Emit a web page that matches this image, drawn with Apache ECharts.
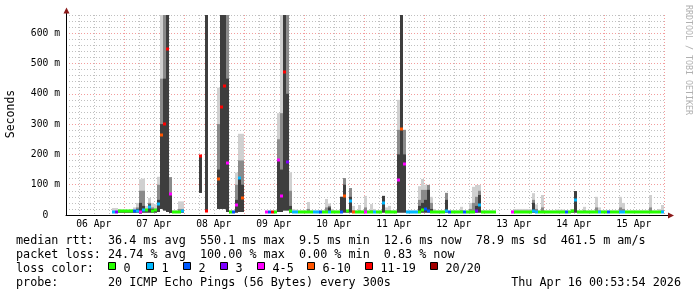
<!DOCTYPE html>
<html>
<head>
<meta charset="utf-8">
<script src="https://cdn.jsdelivr.net/npm/echarts@6/dist/echarts.min.js"></script>
<style>html,body{margin:0;padding:0;background:#fff}#c{width:697px;height:297px}</style>
</head>
<body>
<div id="c"></div>
<script>
// ---------------- DATA ----------------
// Time axis in hours since 06 Apr 00:00 (graph ends Thu Apr 16 00:53:54)
const dayLabels = ['06 Apr','07 Apr','08 Apr','09 Apr','10 Apr','11 Apr','12 Apr','13 Apr','14 Apr','15 Apr'];
const labelHours = [12,36,60,84,108,132,156,180,204,228];
const yTickValues = [0,100,200,300,400,500,600];
// consolidated rows: first row starts at hour 19.2, one row every 1.2 h
const binStartHour = 19.2;
const binHours = 1.2;
// median rtt (ms)
const median = [
 11,10,12,12,12,12,12,12,12,11,
 15,15,27,14,15,36,264,300,548,70,
 11,11,11,12,null,null,null,null,null,195,
 null,13,null,null,null,119,357,426,171,11,
 11,33,122,56,null,null,null,null,null,null,
 null,9,9,10,10,182,63,473,175,13,
 10,10,11,11,11,11,11,11,11,11,
 11,11,11,11,11,11,11,63,12,47,
 10,11,11,11,10,11,11,10,11,11,
 40,11,11,11,11,116,284,168,10,10,
 10,10,11,15,20,12,11,11,11,11,
 11,12,11,11,11,11,11,11,11,11,
 11,12,33,11,11,11,11,11,null,null,
 null,null,null,10,11,11,11,11,11,11,
 14,11,11,11,11,11,11,11,11,11,
 11,11,11,12,50,11,11,11,11,11,
 11,11,11,11,11,11,11,11,11,11,
 11,11,11,11,11,11,11,11,11,11,
 11,11,11,11
];
// lost pings out of 20
const lossCount = [
 1,3,0,0,0,0,0,2,1,4,
 1,0,1,0,0,1,7,12,12,4,
 0,0,0,1,null,null,null,null,null,12,
 null,12,null,null,null,7,12,12,4,0,
 2,4,1,7,null,null,null,null,null,null,
 null,4,2,12,0,4,4,12,3,0,
 1,1,0,0,0,0,0,1,1,2,
 0,0,1,0,0,0,2,7,0,1,
 7,0,0,0,4,0,0,1,0,0,
 1,0,0,0,0,4,7,4,1,1,
 1,1,0,0,2,2,0,0,0,0,
 0,1,2,0,0,0,0,2,0,0,
 0,3,1,0,0,0,0,0,null,null,
 null,null,null,4,0,0,0,0,0,0,
 1,1,0,0,0,0,0,0,0,0,
 0,2,0,0,1,0,0,0,0,0,
 0,0,1,0,0,2,0,0,0,1,
 1,0,0,0,0,0,0,0,0,0,
 0,0,0,1
];
// smoke: lowest ping (ms)
const smokeLow = [
 8,8,8,8,8,8,8,8,8,5,
 8,8,8,8,8,10,20,15,10,7,
 8,8,8,8,null,null,null,null,null,73,
 null,10,null,null,null,20,20,20,10,8,
 8,8,10,10,null,null,null,null,null,null,
 null,7,7,7,8,10,10,15,15,8,
 8,8,8,8,8,8,8,8,8,8,
 8,8,8,8,8,8,8,8,8,8,
 8,8,8,8,8,8,8,8,8,8,
 8,8,8,8,8,8,8,8,8,8,
 8,8,8,8,8,8,8,8,8,8,
 8,8,8,8,8,8,8,8,8,8,
 8,8,8,8,8,8,8,8,null,null,
 null,null,null,8,8,8,8,8,8,8,
 8,8,8,8,8,8,8,8,8,8,
 8,8,8,8,8,8,8,8,8,8,
 8,8,8,8,8,8,8,8,8,8,
 8,8,8,8,8,8,8,8,8,8,
 8,8,8,8
];
// smoke: dense core top (ms)
const smokeCore = [
 12,12,13,12,12,12,12,15,20,40,
 30,18,35,20,20,50,300,450,660,70,
 12,12,12,14,null,null,null,null,null,195,
 null,660,null,null,null,150,660,660,450,12,
 12,50,120,100,null,null,null,null,null,null,
 null,10,10,10,12,182,150,660,400,30,
 12,12,12,12,12,12,12,12,12,12,
 12,12,25,12,12,12,60,100,12,60,
 12,12,12,12,12,12,12,12,12,12,
 63,12,12,12,12,200,660,200,12,12,
 12,12,30,40,50,83,20,12,12,12,
 12,50,12,12,12,12,12,12,12,12,
 12,30,66,12,12,12,12,12,null,null,
 null,null,null,12,12,12,12,12,12,12,
 40,12,12,12,12,12,12,12,12,12,
 12,12,12,12,79,12,12,12,12,12,
 12,12,12,12,12,12,12,12,12,12,
 12,12,12,12,12,12,12,12,12,12,
 12,12,12,12
];
// smoke: middle band top (ms)
const smokeMid = [
 12,12,13,12,12,12,12,15,25,80,
 80,18,40,25,20,100,450,660,660,125,
 12,12,20,20,null,null,null,null,null,195,
 null,660,null,null,null,300,660,660,660,12,
 12,100,180,180,null,null,null,null,null,null,
 null,10,10,10,12,250,336,660,660,80,
 12,12,12,12,12,20,12,12,12,12,
 12,25,30,12,12,12,60,122,12,89,
 15,12,15,12,25,12,15,12,12,12,
 63,15,15,12,12,281,660,281,12,12,
 12,12,50,83,83,99,40,12,12,12,
 12,73,12,12,12,12,15,12,12,20,
 40,60,80,12,12,12,12,12,null,null,
 null,null,null,12,14,14,14,14,14,14,
 50,20,12,25,12,12,12,12,12,12,
 12,12,12,12,79,12,12,15,12,12,
 12,25,15,12,12,12,12,12,12,25,
 20,12,12,12,12,12,12,12,12,25,
 12,12,12,15
];
// smoke: highest ping (ms)
const smokeHigh = [
 23,23,20,18,18,17,18,25,40,118,
 120,30,56,40,35,126,660,660,660,125,
 15,15,45,45,null,null,null,null,null,195,
 null,660,null,null,null,420,660,660,660,15,
 15,140,268,268,null,null,null,null,null,null,
 null,12,12,12,15,336,660,660,660,141,
 20,18,15,15,15,43,15,15,15,15,
 15,53,38,20,15,15,60,122,15,89,
 30,15,33,15,63,15,36,20,15,15,
 63,25,30,15,15,380,660,281,15,15,
 15,15,95,119,100,100,60,20,15,15,
 15,73,15,15,15,15,27,15,15,40,
 93,99,99,15,15,15,15,15,null,null,
 null,null,null,15,20,20,20,20,20,20,
 72,35,15,66,15,15,15,15,18,18,
 18,15,15,20,79,15,15,27,15,15,
 15,60,25,15,15,15,15,15,15,60,
 40,15,15,15,15,15,15,15,15,66,
 15,15,20,33
];
const lossLabels = ['0','1','2','3','4-5','6-10','11-19','20/20'];
const lossColors = ['#26ff00','#00b8ff','#0059ff','#7e00ff','#ff00ff','#ff5500','#ff0000','#a10000'];
const statLines = [
 'median rtt:  36.4 ms avg  550.1 ms max  9.5 ms min  12.6 ms now  78.9 ms sd  461.5 m am/s',
 'packet loss: 24.74 % avg  100.00 % max  0.00 % min  0.83 % now',
 'loss color:',
 'probe:       20 ICMP Echo Pings (56 Bytes) every 300s'
];
const stampText = 'Thu Apr 16 00:53:54 2026';

// ---------------- CHART ----------------
const X_MIN = 0.898, X_MAX = 240.898, Y_MAX = 660;
const MONO = '"DejaVu Sans Mono", monospace';
const MINOR = 'rgba(140,140,140,0.55)';
const MAJOR = 'rgba(235,90,90,0.6)';

function lossClass(n){ if(n<=3) return n; if(n<=5) return 4; if(n<=10) return 5; if(n<=19) return 6; return 7; }

const rows = [];
for (let i = 0; i < median.length; i++) {
  if (median[i] == null) continue;
  rows.push([binStartHour + i*binHours, smokeLow[i], smokeCore[i], smokeMid[i], smokeHigh[i], median[i], lossCount[i]]);
}
const gridHours = [];
for (let h = 6; h <= 240; h += 6) gridHours.push(h);

function renderItem(params, api){
  const t = api.value(0);
  const cl = v => Math.min(v, Y_MAX);
  const a = api.coord([t, cl(api.value(1))]);
  const b = api.coord([t + binHours, cl(api.value(4))]);
  const x0 = Math.round(a[0]), x1 = Math.round(b[0]), w = x1 - x0;
  const yLo = a[1], yHi = b[1];
  const yCore = api.coord([t, cl(api.value(2))])[1];
  const yMid = api.coord([t, cl(api.value(3))])[1];
  const yMed = api.coord([t, cl(api.value(5))])[1];
  return {type:'group', children:[
    {type:'rect', shape:{x:x0, y:yHi, width:w, height:yLo-yHi}, style:{fill:'#d0d0d0'}},
    {type:'rect', shape:{x:x0, y:yMid, width:w, height:yLo-yMid}, style:{fill:'#8a8a8a'}},
    {type:'rect', shape:{x:x0, y:yCore, width:w, height:yLo-yCore}, style:{fill:'#3e3e3e'}},
    {type:'rect', shape:{x:x0, y:Math.round(yMed)-1.5, width:w, height:3}, style:{fill:lossColors[lossClass(api.value(6))]}}
  ]};
}

function txt(text, x, y, opts){
  return Object.assign({type:'text', x:x, y:y, silent:true, style:Object.assign({
    text:text, x:0, y:0, font:'11.75px ' + MONO, fill:'#000',
    align:'left', textAlign:'left', verticalAlign:'middle', textVerticalAlign:'middle'
  }, (opts && opts.style) || {})}, (opts && opts.el) || {});
}

const graphics = [];
const rowY = [241, 255, 269.3, 283.3];
statLines.forEach((s, i) => graphics.push(txt(s, 16, rowY[i])));
graphics.push(txt(stampText, 681, rowY[3], {style:{align:'right', textAlign:'right'}}));
const sqX = [108, 146, 183, 220, 257, 307, 365, 430];
lossLabels.forEach((lab, i) => {
  graphics.push({type:'rect', silent:true, shape:{x:sqX[i]+0.5, y:262.5, width:7, height:7},
    style:{fill:lossColors[i], stroke:'#000', lineWidth:1}});
  graphics.push(txt(lab, sqX[i]+15.5, rowY[2]));
});
graphics.push(txt('Seconds', 11, 114, {style:{font:'11.5px ' + MONO, align:'center', textAlign:'center'}, el:{rotation:Math.PI/2}}));
graphics.push(txt('RRDTOOL / TOBI OETIKER', 688, 60, {style:{font:'8.3px ' + MONO, fill:'#b0b0b0', align:'center', textAlign:'center'}, el:{rotation:-Math.PI/2}}));
// axis extensions and arrows
graphics.push({type:'line', silent:true, shape:{x1:66.5, y1:15, x2:66.5, y2:12}, style:{stroke:'#000', lineWidth:1}});
graphics.push({type:'polygon', silent:true, shape:{points:[[63.5,13.5],[66.5,7.5],[69.5,13.5]]}, style:{fill:'#8b1a1a'}});
graphics.push({type:'line', silent:true, shape:{x1:666, y1:215.5, x2:669, y2:215.5}, style:{stroke:'#000', lineWidth:1}});
graphics.push({type:'polygon', silent:true, shape:{points:[[668,212.5],[674,215.5],[668,218.5]]}, style:{fill:'#8b1a1a'}});

const chart = echarts.init(document.getElementById('c'), null, {renderer:'canvas'});
chart.setOption({
  animation: false,
  backgroundColor: '#ffffff',
  grid: {left:66, right:31, top:15, bottom:82},
  xAxis: {
    type:'value', min:X_MIN, max:X_MAX,
    axisLine:{show:true, onZero:false, lineStyle:{color:'#000', width:1}},
    axisTick:{show:false, customValues:gridHours},
    axisLabel:{customValues:labelHours, formatter:v => dayLabels[labelHours.indexOf(v)],
      fontFamily:MONO, fontSize:9.7, color:'#000', margin:4},
    splitLine:{show:true, lineStyle:{color:[MINOR, MINOR, MINOR, MAJOR], type:[1,2], width:1}}
  },
  yAxis: {
    type:'value', min:0, max:Y_MAX, interval:20,
    axisLine:{show:true, lineStyle:{color:'#000', width:1}},
    axisTick:{show:false},
    axisLabel:{formatter:v => (yTickValues.indexOf(v) < 0 ? '' : (v === 0 ? '0  ' : v + ' m')),
      fontFamily:MONO, fontSize:9.7, color:'#000', margin:6, showMaxLabel:false},
    splitLine:{show:true, lineStyle:{color:[MAJOR, MINOR, MINOR, MINOR, MINOR], type:[1,2], width:1}}
  },
  series: [{
    type:'custom', renderItem:renderItem, data:rows, clip:true, silent:true,
    encode:{x:0, y:[1,4]}
  }],
  graphic: graphics
});
</script>
</body>
</html>
